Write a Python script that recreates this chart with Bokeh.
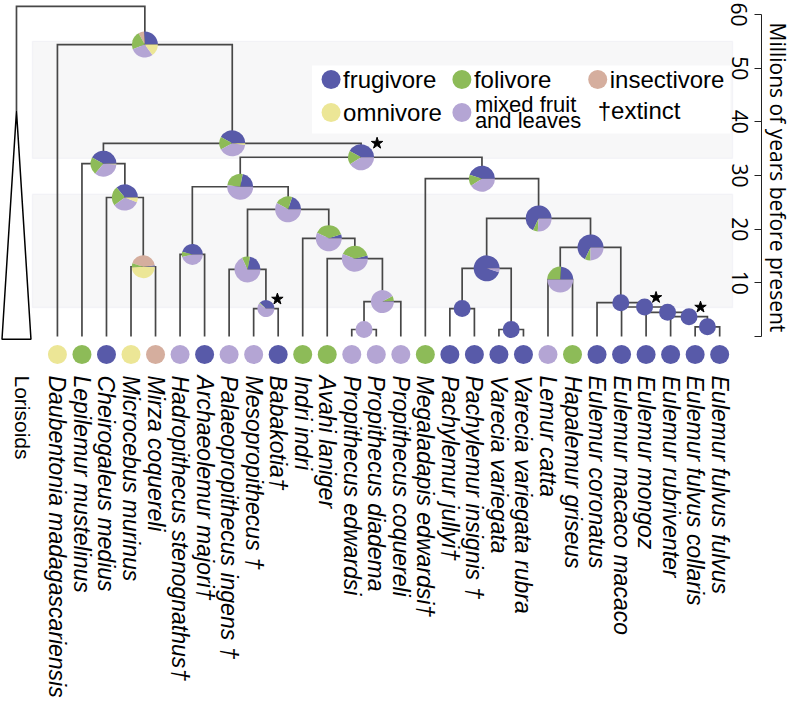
import math
from bokeh.plotting import figure
from bokeh.models import (Range1d, LinearAxis, FixedTicker, ColumnDataSource, BoxAnnotation,
                          Title)
from bokeh.embed import file_html
from bokeh.resources import INLINE
from bokeh.core.properties import value

# ---------------- data ----------------
tip_labels = ["Daubentonia madagascariensis", "Lepilemur mustelinus", "Cheirogaleus medius",
              "Microcebus murinus", "Mirza coquereli", "Hadropithecus stenognathus\u2020",
              "Archaeolemur majori\u2020", "Palaeopropithecus ingens \u2020", "Mesopropithecus \u2020",
              "Babakotia\u2020", "Indri indri", "Avahi laniger", "Propithecus edwardsi",
              "Propithecus diadema", "Propithecus coquereli", "Megaladapis edwardsi\u2020",
              "Pachylemur jullyi\u2020", "Pachylemur insignis \u2020", "Varecia variegata",
              "Varecia variegata rubra", "Lemur catta", "Hapalemur griseus", "Eulemur coronatus",
              "Eulemur macaco macaco", "Eulemur mongoz", "Eulemur rubriventer",
              "Eulemur fulvus collaris", "Eulemur fulvus fulvus"]
tip_diet = ["omnivore", "folivore", "frugivore", "omnivore", "insectivore", "mixed",
            "frugivore", "mixed", "mixed", "frugivore", "folivore", "folivore", "mixed",
            "mixed", "mixed", "folivore", "frugivore", "frugivore", "frugivore", "frugivore",
            "mixed", "folivore", "frugivore", "frugivore", "frugivore", "frugivore",
            "frugivore", "frugivore"]

diet_names = ["frugivore", "insectivore", "folivore", "mixed", "omnivore"]
diet_colors = {"frugivore": "#585aa9", "insectivore": "#d5ae9e", "folivore": "#8dbb58",
               "mixed": "#b4a5d4", "omnivore": "#ece696"}

# internal nodes (post-order); children are tip indices or node names; ages in Ma
node_names = ["N27", "N26", "N25", "N24", "N23", "N22", "N19", "N20", "N21", "N18", "N17",
              "N8", "N16", "N15", "N14", "N12", "N13", "N11", "N10", "N9", "N7", "N6",
              "N5", "N4", "N3", "N2", "N1"]
node_left = [26, 25, 24, 23, 22, 20, "N22", 16, 18, "N20", "N18",
             15, 12, "N16", 11, 10, 8, 7, "N11", 5, "N9", "N7",
             3, 2, 1, "N3", 0]
node_right = [27, "N27", "N26", "N25", "N24", 21, "N23", 17, 19, "N21", "N19",
              "N17", 13, 14, "N15", "N14", 9, "N13", "N12", 6, "N10", "N8",
              4, "N5", "N4", "N6", "N2"]
node_age = [1.8, 3.7, 4.5, 5.5, 6.3, 10.6, 16.6, 5.2, 1.3, 12.7, 22.0,
            29.4, 1.3, 6.5, 14.5, 18.3, 5.2, 12.5, 23.7, 15.3, 27.9, 33.4,
            13.0, 25.9, 32.2, 36.0, 54.4]
# ancestral-state probabilities per node
pie_frugivore = [1, 1, 1, 1, 1, 0.24, 0.68, 1, 1, 0.95, 0.68,
                 0.45, 0, 0.01, 0.04, 0.05, 0.38, 0.22, 0.20, 0.46, 0.22, 0.42,
                 0.02, 0.36, 0.42, 0.42, 0.26]
pie_insectivore = [0, 0, 0, 0, 0, 0, 0, 0, 0, 0, 0,
                   0, 0, 0, 0, 0, 0, 0, 0, 0, 0, 0,
                   0.43, 0, 0, 0, 0.07]
pie_folivore = [0, 0, 0, 0, 0, 0.26, 0.07, 0, 0, 0, 0.06,
                0.14, 0, 0.07, 0.40, 0.38, 0.02, 0.10, 0.22, 0.08, 0.26, 0.17,
                0.06, 0.24, 0.22, 0.16, 0.23]
pie_mixed = [0, 0, 0, 0, 0, 0.50, 0.25, 0, 0, 0.05, 0.26,
             0.41, 1, 0.92, 0.56, 0.57, 0.60, 0.68, 0.58, 0.46, 0.52, 0.41,
             0, 0.34, 0.35, 0.40, 0.29]
pie_omnivore = [0, 0, 0, 0, 0, 0, 0, 0, 0, 0, 0,
                0, 0, 0, 0, 0, 0, 0, 0, 0, 0, 0,
                0.49, 0.06, 0.01, 0.02, 0.15]
starred_nodes = ["N6", "N13", "N24", "N26"]

root_age = 61.5
outgroup_label = "Lorisoids"
outgroup_stem_age = 42.0
outgroup_base_age = -0.5
time_ticks = [0, 10, 20, 30, 40, 50, 60]
time_title = "Millions of years before present"
band_tops = [55.0, 26.5]
band_bottoms = [33.2, 5.4]

legend_diets = [["frugivore", "folivore", "insectivore"], ["omnivore", "mixed"]]
legend_texts = {"frugivore": ["frugivore"], "folivore": ["folivore"],
                "insectivore": ["insectivore"], "omnivore": ["omnivore"],
                "mixed": ["mixed fruit", "and leaves"]}
extinct_text = "\u2020extinct"

# ---------------- layout (picture pixels) ----------------
W, H = 794, 705
TIP0_PX, TIP_STEP_PX = 57.0, 24.56
AGE0_PX, PX_PER_MA = 336.0, 5.367
FRAME_RIGHT_PX = 762.0


def dx(px):
    return (px - TIP0_PX) / TIP_STEP_PX


def dy(py):
    return (AGE0_PX - py) / PX_PER_MA


def lx(pixels):
    return pixels / TIP_STEP_PX


def ly(pixels):
    return pixels / PX_PER_MA


p = figure(width=W, height=H,
           x_range=Range1d(dx(0), dx(FRAME_RIGHT_PX)),
           y_range=Range1d(dy(H), dy(0)),
           output_backend="svg", toolbar_location=None,
           x_axis_location=None, y_axis_location=None,
           min_border_left=0, min_border_top=0, min_border_bottom=0,
           min_border_right=int(W - FRAME_RIGHT_PX))
p.outline_line_color = None
p.grid.visible = False

# epoch bands
band_left, band_right = dx(32), dx(733)
for t, b in zip(band_tops, band_bottoms):
    p.add_layout(BoxAnnotation(left=band_left, right=band_right, top=t, bottom=b,
                               fill_color="#f7f7f8", fill_alpha=1.0,
                               line_color="#e2e2ee", line_width=1.3, level="underlay"))
# legend backdrop
p.add_layout(BoxAnnotation(left=dx(312), right=dx(731), top=dy(65), bottom=dy(133),
                           fill_color="white", fill_alpha=1.0, line_color=None,
                           level="underlay"))

# ---------------- tree geometry ----------------
pos, age = {}, {}
for i in range(len(tip_labels)):
    pos[i], age[i] = float(i), 0.0
for n, l, r, a in zip(node_names, node_left, node_right, node_age):
    pos[n], age[n] = (pos[l] + pos[r]) / 2.0, a

xs, ys = [], []
for n, l, r in zip(node_names, node_left, node_right):
    xs.append([pos[l], pos[l], pos[r], pos[r]])
    ys.append([age[l], age[n], age[n], age[r]])
og_x = dx(16)
top = node_names[-1]
xs.append([og_x, og_x, pos[top], pos[top]])
ys.append([outgroup_stem_age, root_age, root_age, age[top]])
p.multi_line(xs, ys, line_color="#474747", line_width=1.7, line_join="miter")

# outgroup triangle
hw = lx(14.5)
p.patch([og_x - hw, og_x, og_x + hw], [outgroup_base_age, outgroup_stem_age, outgroup_base_age],
        fill_color="white", line_color="black", line_width=1.5)

# ---------------- pies ----------------
pie_r_px = {n: 13.0 for n in node_names}
for n in ["N13", "N16", "N20", "N21", "N23", "N24", "N25", "N26", "N27"]:
    pie_r_px[n] = 8.5
pie_r_px["N9"] = 10.5
pie_r_px["N5"] = 11.5
pie_r_px["N15"] = 11.5

wedges = dict(x=[], y=[], s=[], e=[], c=[], r=[])
full = dict(x=[], y=[], c=[], size=[])
for k, n in enumerate(node_names):
    fr = [pie_frugivore[k], pie_insectivore[k], pie_folivore[k], pie_mixed[k], pie_omnivore[k]]
    tot = sum(fr)
    if max(fr) / tot > 0.999:
        full["x"].append(pos[n]); full["y"].append(age[n])
        full["c"].append(diet_colors[diet_names[fr.index(max(fr))]])
        full["size"].append(2 * pie_r_px[n])
        continue
    start = 0.0
    for d, f in zip(diet_names, fr):
        if f <= 0:
            continue
        end = start + 2 * math.pi * f / tot
        wedges["x"].append(pos[n]); wedges["y"].append(age[n])
        wedges["s"].append(start); wedges["e"].append(end)
        wedges["c"].append(diet_colors[d]); wedges["r"].append(pie_r_px[n])
        start = end
p.wedge(x="x", y="y", radius="r", radius_units="screen", start_angle="s", end_angle="e",
        fill_color="c", line_color=None, source=ColumnDataSource(wedges))
p.scatter(x="x", y="y", size="size", fill_color="c", line_color=None,
          source=ColumnDataSource(full))

# stars
p.scatter([pos[n] + lx(pie_r_px[n] + 3) for n in starred_nodes],
          [age[n] + ly(pie_r_px[n] + 1) for n in starred_nodes],
          marker="star", size=12, color="black")

# ---------------- tips ----------------
tip_y = dy(354)
p.scatter(list(range(len(tip_labels))), [tip_y] * len(tip_labels), size=19,
          fill_color=[diet_colors[d] for d in tip_diet], line_color=None)
lab_y = dy(375)
p.text(list(range(len(tip_labels))), [lab_y] * len(tip_labels), text=tip_labels,
       angle=-math.pi / 2, text_align="left", text_baseline="middle",
       text_font=value("Liberation Sans"), text_font_style="italic",
       text_font_size="23px", text_color="black")
p.text([dx(22)], [lab_y], text=[outgroup_label], angle=-math.pi / 2, text_align="left",
       text_baseline="middle", text_font=value("Liberation Sans"),
       text_font_size="21px", text_color="black")

# ---------------- legend ----------------
row_y = [79, 112]
col_circle_x = [331, 462, 598]
leg_cx, leg_cy, leg_c = [], [], []
lt_x, lt_y, lt_t = [], [], []
for r, row in enumerate(legend_diets):
    for c, d in enumerate(row):
        leg_cx.append(dx(col_circle_x[c])); leg_cy.append(dy(row_y[r]))
        leg_c.append(diet_colors[d])
        lines = legend_texts[d]
        if len(lines) == 1:
            lt_x.append(dx(col_circle_x[c] + 12)); lt_y.append(dy(row_y[r]))
            lt_t.append(lines[0])
        else:
            for j, t in enumerate(lines):
                p.text([dx(col_circle_x[c] + 13)], [dy(row_y[r] - 8 + 16 * j)], text=[t],
                       text_align="left", text_baseline="middle",
                       text_font=value("Liberation Sans"), text_font_size="22px",
                       text_color="black")
p.scatter(leg_cx, leg_cy, size=19, fill_color=leg_c, line_color=None)
p.text(lt_x, lt_y, text=lt_t, text_align="left", text_baseline="middle",
       text_font=value("Liberation Sans"), text_font_size="24px", text_color="black")
p.text([dx(598)], [dy(110)], text=[extinct_text], text_align="left", text_baseline="middle",
       text_font=value("Liberation Sans"), text_font_size="24px", text_color="black")

# ---------------- time axis ----------------
axis = LinearAxis(ticker=FixedTicker(ticks=time_ticks), bounds=(0, 60),
                  major_label_orientation="vertical",
                  major_label_overrides={0: ""},
                  major_tick_in=7, major_tick_out=0, minor_tick_in=0, minor_tick_out=0,
                  major_label_standoff=-30,
                  axis_line_color="#222222", major_tick_line_color="#222222",
                  major_label_text_font="Open Sans", major_label_text_font_size="21px",
                  major_label_text_color="black")
p.add_layout(axis, "right")
# axis title placed beside the 0-60 Ma span of the axis
p.add_layout(Title(text=time_title, align="left", offset=int(AGE0_PX - time_ticks[-1] * PX_PER_MA + 9),
                   standoff=3, vertical_align="middle",
                   text_font="Open Sans", text_font_size="21px", text_font_style="normal",
                   text_color="black"), "right")

open("out.html", "w").write(file_html(p, INLINE))
